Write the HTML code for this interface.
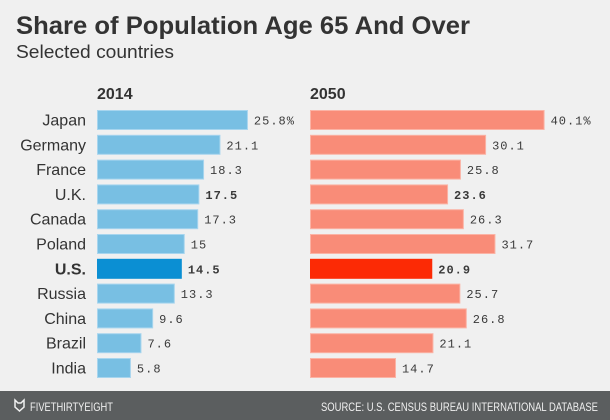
<!DOCTYPE html>
<html><head><meta charset="utf-8"><style>
body{margin:0;background:#f0f0f0;}
svg{display:block;font-family:"Liberation Sans",sans-serif;}
</style></head><body>
<svg id="chart" width="610" height="420" viewBox="0 0 610 420">
<rect x="0" y="0" width="610" height="420" fill="#f0f0f0"/>
<text x="16" y="34" font-size="25" font-weight="bold" fill="#333" textLength="454" lengthAdjust="spacingAndGlyphs">Share of Population Age 65 And Over</text>
<text x="16" y="58" font-size="18" fill="#333" textLength="158" lengthAdjust="spacingAndGlyphs">Selected countries</text>
<text x="97" y="99" font-size="16" font-weight="bold" fill="#333">2014</text>
<text x="310" y="99" font-size="16" font-weight="bold" fill="#333">2050</text>
<g id="bars"></g>
<rect x="0" y="391" width="610" height="29" fill="#5b5e5f"/>
<path d="M15 400 L18 403 L21 403 L24 400 L24 407 L19.5 411 L15 407 Z" fill="none" stroke="#f0f0f0" stroke-width="1.5"/>
<text x="30" y="411" font-size="12" fill="#f0f0f0" textLength="83" lengthAdjust="spacingAndGlyphs">FIVETHIRTYEIGHT</text>
<text x="598" y="411" font-size="12" fill="#f0f0f0" text-anchor="end" textLength="277" lengthAdjust="spacingAndGlyphs">SOURCE: U.S. CENSUS BUREAU INTERNATIONAL DATABASE</text>
</svg>
<script>
const countries=["Japan","Germany","France","U.K.","Canada","Poland","U.S.","Russia","China","Brazil","India"];
const values2014=[25.8,21.1,18.3,17.5,17.3,15,14.5,13.3,9.6,7.6,5.8];
const values2050=[40.1,30.1,25.8,23.6,26.3,31.7,20.9,25.7,26.8,21.1,14.7];
const labels2014=["25.8%","21.1","18.3","17.5","17.3","15","14.5","13.3","9.6","7.6","5.8"];
const labels2050=["40.1%","30.1","25.8","23.6","26.3","31.7","20.9","25.7","26.8","21.1","14.7"];
const boldRows=["U.K.","U.S."];
const NS="http://www.w3.org/2000/svg";
const g=document.getElementById('bars');
const scale=v=>v*5.85;
const rowY=i=>110+i*24.8;
function mk(tag,attrs){const e=document.createElementNS(NS,tag);for(const k in attrs)e.setAttribute(k,attrs[k]);return e;}
countries.forEach((c,i)=>{
  const y=rowY(i);const us=c==="U.S.";const bold=boldRows.includes(c);
  const lab=mk('text',{x:86,y:y+15.5,'font-size':16,fill:'#333','text-anchor':'end','font-weight':us?'bold':'normal'});
  lab.textContent=c;
  
  
  g.appendChild(lab);
  [[97,values2014,labels2014,us?'#0b8fd3':'#78bfe3',us?'#0b8fd3':'#a7d5ee','bar-2014'],[310,values2050,labels2050,us?'#fc2a05':'#f98c78',us?'#fc2a05':'#fbb3a5','bar-2050']].forEach(([x0,vals,labs,col,stroke,nm])=>{
    const w=scale(vals[i]);
    const r=mk('rect',{x:x0+0.5,y:y+0.5,width:w-1,height:19,fill:col,stroke:stroke,'stroke-width':1});
    
    
    g.appendChild(r);
    const t=mk('text',{x:x0+w+6,y:y+14.5,'font-size':12,fill:'#3a3a3a','font-family':'Liberation Mono, monospace','letter-spacing':'1','font-weight':bold?'bold':'normal'});
    t.textContent=labs[i];
    
    
    g.appendChild(t);
  });
});
</script>
</body></html>
